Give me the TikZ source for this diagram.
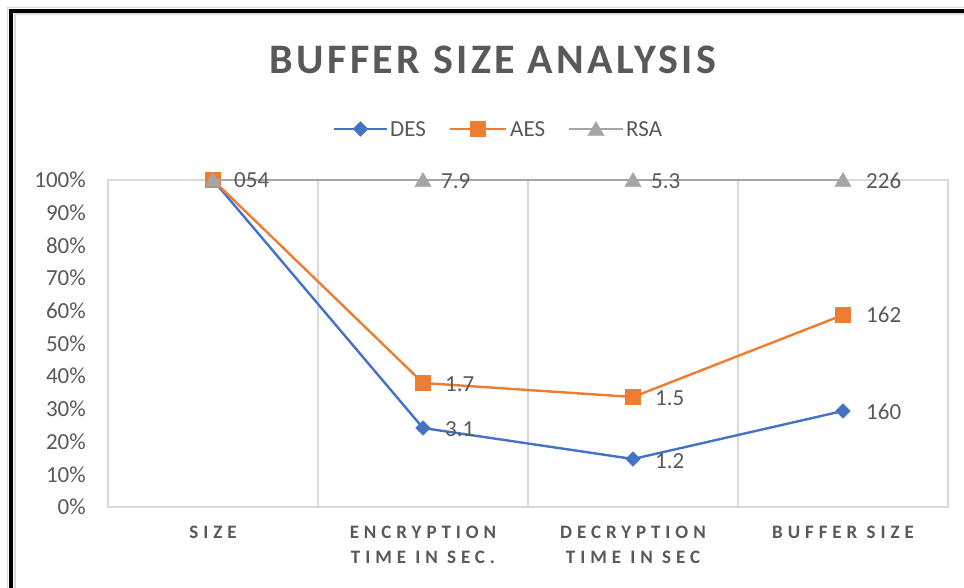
\documentclass[tikz,border=0pt]{standalone}
\usepackage{fontspec}
\setmainfont{Carlito}
\newfontfamily\titlefont[LetterSpace=8]{Carlito}
\newfontfamily\catfont[LetterSpace=26]{Carlito}
\usetikzlibrary{shapes.geometric,calc}
\definecolor{desc}{HTML}{4472C4}
\definecolor{aesc}{HTML}{ED7D31}
\definecolor{rsac}{HTML}{A5A5A5}
\definecolor{txt}{HTML}{595959}
\definecolor{gridc}{HTML}{D9D9D9}
\tikzset{
  desline/.style={draw=desc, line width=2.4pt, line join=round},
  aesline/.style={draw=aesc, line width=2.4pt, line join=round},
  rsaline/.style={draw=rsac, line width=2.4pt, line join=round},
  desmark/.style={diamond, fill=desc, draw=desc, minimum size=15pt, inner sep=0pt},
  aesmark/.style={rectangle, fill=aesc, draw=aesc, minimum size=15pt, inner sep=0pt},
  rsamark/.style={regular polygon, regular polygon sides=3, fill=rsac, draw=rsac, minimum size=19pt, inner sep=0pt},
  ticklab/.style={anchor=east, text=txt, font=\fontsize{23}{26}\selectfont, inner sep=0pt},
  datalab/.style={anchor=west, text=txt, font=\fontsize{23}{26}\selectfont, inner sep=0pt},
  catlab/.style={anchor=north, text=txt, font=\catfont\bfseries\fontsize{19}{25}\selectfont, align=center, inner sep=0pt},
  leglab/.style={anchor=west, text=txt, font=\fontsize{23}{26}\selectfont, inner sep=0pt},
  gridline/.style={draw=gridc, line width=1.3pt}
}
\begin{document}
\begin{tikzpicture}[x=1pt,y=-1pt]
\useasboundingbox (0,0) rectangle (964,588);
\fill[white] (0,0) rectangle (964,588);
% frame
\begin{scope}
\clip (0,0) rectangle (964,588);
\draw[gridc, line width=1pt] (7.5,7.5) rectangle (1000,620);
\draw[black, line width=4pt] (11,11) rectangle (1000,620);
\draw[gridc, line width=2pt] (14.5,14.5) rectangle (1000,620);
\end{scope}
% title
\node[text=txt, font=\titlefont\bfseries\fontsize{42}{48}\selectfont, inner sep=0pt] (title) at (493,60) {BUFFER SIZE ANALYSIS};
% plot area
\draw[gridline] (108,180) rectangle (948,507);
\foreach \x in {318,528,738} \draw[gridline] (\x,180) -- (\x,507);
% y ticks
\foreach \v [count=\i from 0] in {0\%,10\%,20\%,30\%,40\%,50\%,60\%,70\%,80\%,90\%,100\%}
  \node[ticklab] (yt\i) at (86,{507-32.7*\i}) {\v};
% category labels
\node[catlab] (c1) at (213,526) {SIZE};
\node[catlab] (c2) at (423,526) {ENCRYPTION\\TIME IN SEC.};
\node[catlab] (c3) at (633,526) {DECRYPTION\\TIME IN SEC};
\node[catlab] (c4) at (843,526) {BUFFER SIZE};
% data points
\coordinate (d1) at (213,180);
\coordinate (d2) at (423,428);
\coordinate (d3) at (633,459);
\coordinate (d4) at (843,411);
\coordinate (a1) at (213,180);
\coordinate (a2) at (423,383);
\coordinate (a3) at (633,397);
\coordinate (a4) at (843,315);
\coordinate (r1) at (213,180);
\coordinate (r2) at (423,180);
\coordinate (r3) at (633,180);
\coordinate (r4) at (843,180);
% DES
\draw[desline] (d1) -- (d2) -- (d3) -- (d4);
\foreach \p in {d1,d2,d3,d4} \node[desmark] at (\p) {};
% AES
\draw[aesline] (a1) -- (a2) -- (a3) -- (a4);
\foreach \p in {a1,a2,a3,a4} \node[aesmark] at (\p) {};
% RSA
\draw[rsaline] (r1) -- (r2) -- (r3) -- (r4);
\foreach \p in {r1,r2,r3,r4} \node[rsamark] at ([yshift=-2pt]\p) {};
% data labels
\node[datalab] (l1) at (234,180) {054};
\node[datalab] (l2) at (441,181) {7.9};
\node[datalab] (l3) at (651,181) {5.3};
\node[datalab] (l4) at (866,181) {226};
\node[datalab] (l5) at (445,384) {1.7};
\node[datalab] (l6) at (445,429) {3.1};
\node[datalab] (l7) at (655,398) {1.5};
\node[datalab] (l8) at (655,461) {1.2};
\node[datalab] (l9) at (866,315) {162};
\node[datalab] (l10) at (866,412) {160};
% legend
\coordinate (ld1) at (334,129); \coordinate (ld2) at (387,129);
\draw[desline] (ld1) -- (ld2);
\node[desmark] at ($(ld1)!0.5!(ld2)$) {};
\node[leglab] (ldes) at (390,129) {DES};
\coordinate (la1) at (450,129); \coordinate (la2) at (506,129);
\draw[aesline] (la1) -- (la2);
\node[aesmark] at ($(la1)!0.5!(la2)$) {};
\node[leglab] (laes) at (510,129) {AES};
\coordinate (lr1) at (569,129); \coordinate (lr2) at (623,129);
\draw[rsaline] (lr1) -- (lr2);
\node[rsamark] at ([yshift=-2pt]$(lr1)!0.5!(lr2)$) {};
\node[leglab] (lrsa) at (626,129) {RSA};
\end{tikzpicture}
\end{document}
